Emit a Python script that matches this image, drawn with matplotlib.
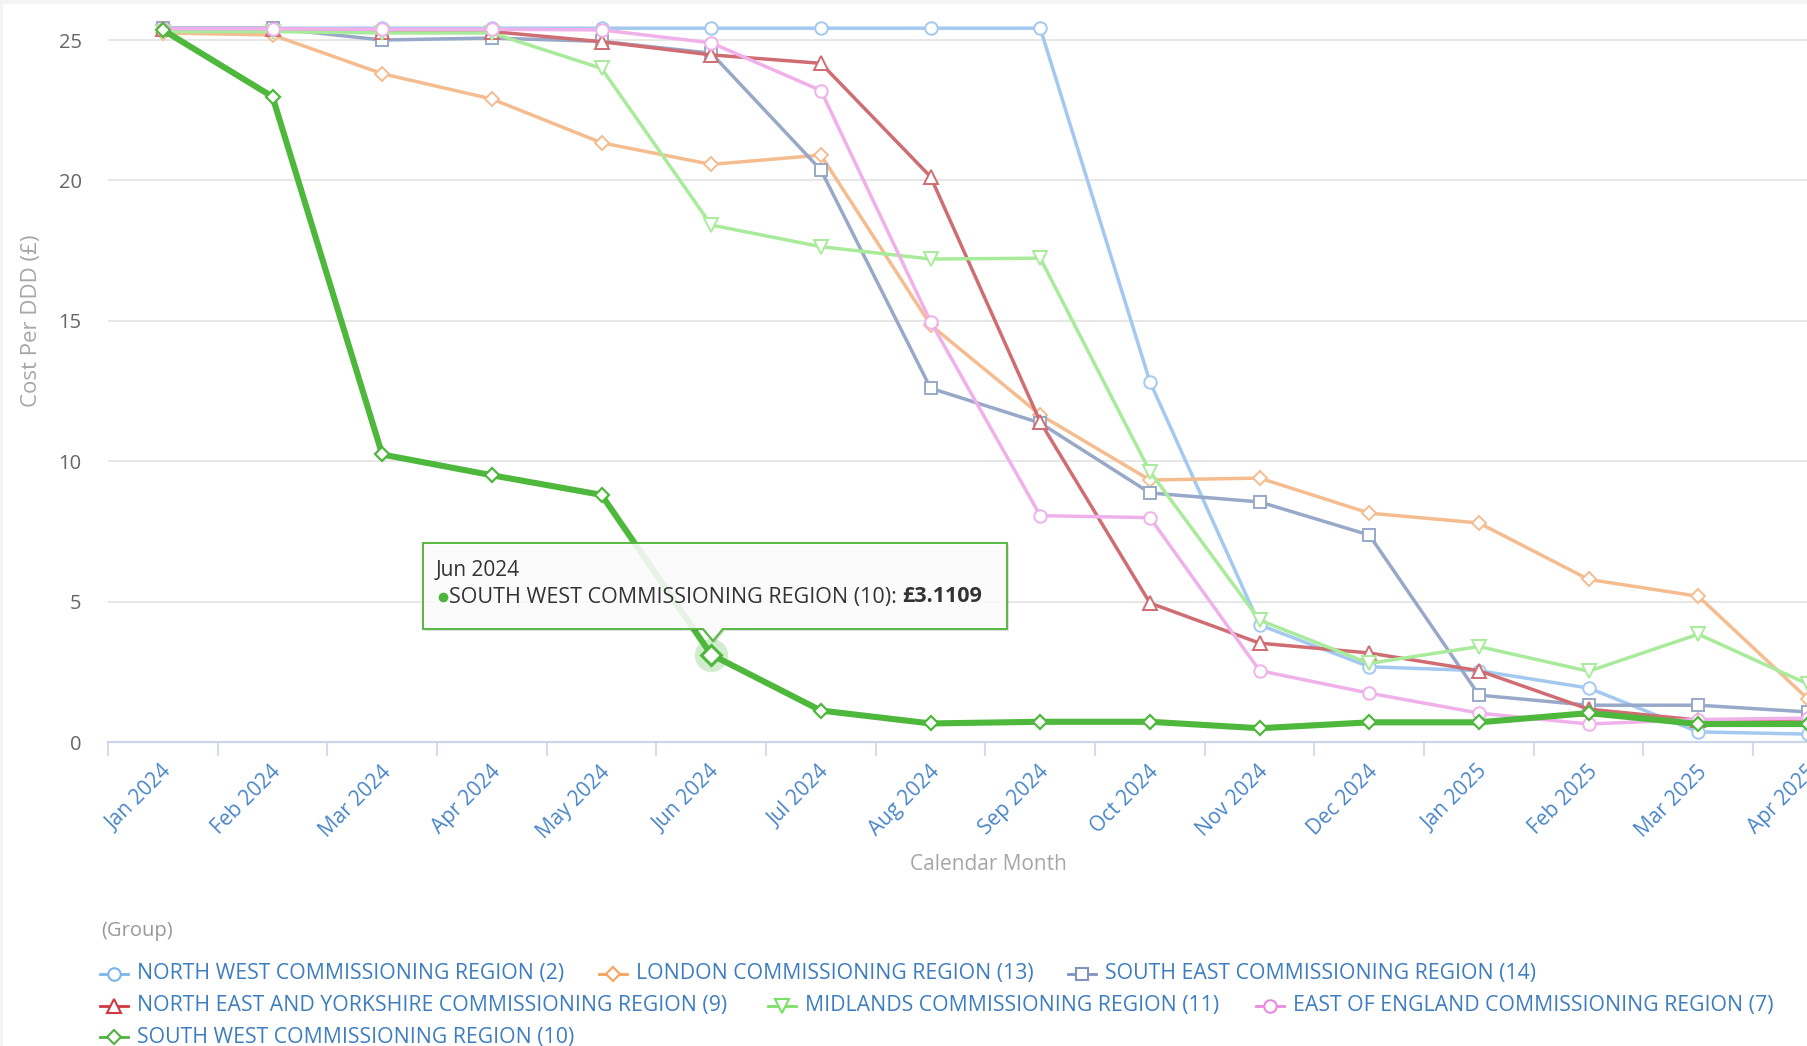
import numpy as np
import matplotlib
matplotlib.use("Agg")
import matplotlib.pyplot as plt
from matplotlib.patches import Polygon, Rectangle
from matplotlib.lines import Line2D
from matplotlib.transforms import ScaledTranslation

plt.rcParams['font.family'] = ['Open Sans', 'DejaVu Sans']

# data
months = ["Jan 2024", "Feb 2024", "Mar 2024", "Apr 2024", "May 2024", "Jun 2024",
          "Jul 2024", "Aug 2024", "Sep 2024", "Oct 2024", "Nov 2024", "Dec 2024",
          "Jan 2025", "Feb 2025", "Mar 2025", "Apr 2025"]

north_west = [25.42, 25.42, 25.42, 25.42, 25.42, 25.42, 25.42, 25.42, 25.42,
              12.83, 4.17, 2.68, 2.54, 1.92, 0.36, 0.28]
london = [25.25, 25.18, 23.8, 22.9, 21.34, 20.57, 20.9, 14.85, 11.65,
          9.33, 9.4, 8.15, 7.8, 5.79, 5.19, 1.53]
south_east = [25.42, 25.42, 25.0, 25.07, 24.95, 24.53, 20.37, 12.6, 11.36,
              8.87, 8.55, 7.37, 1.67, 1.31, 1.31, 1.07]
north_east_yorks = [25.4, 25.4, 25.3, 25.3, 24.94, 24.47, 24.17, 20.13, 11.4,
                    4.95, 3.52, 3.17, 2.54, 1.17, 0.78, 0.82]
midlands = [25.3, 25.3, 25.25, 25.25, 23.99, 18.41, 17.64, 17.2, 17.23,
            9.63, 4.34, 2.8, 3.4, 2.52, 3.84, 2.06]
east_of_england = [25.4, 25.4, 25.38, 25.38, 25.36, 24.9, 23.2, 14.97, 8.06,
                   7.99, 2.54, 1.74, 1.03, 0.64, 0.8, 0.85]
south_west = [25.36, 22.98, 10.24, 9.5, 8.8, 3.1109, 1.12, 0.66, 0.72,
              0.72, 0.49, 0.7, 0.7, 1.03, 0.64, 0.64]

names = ["NORTH WEST COMMISSIONING REGION (2)",
         "LONDON COMMISSIONING REGION (13)",
         "SOUTH EAST COMMISSIONING REGION (14)",
         "NORTH EAST AND YORKSHIRE COMMISSIONING REGION (9)",
         "MIDLANDS COMMISSIONING REGION (11)",
         "EAST OF ENGLAND COMMISSIONING REGION (7)",
         "SOUTH WEST COMMISSIONING REGION (10)"]
series = [north_west, london, south_east, north_east_yorks, midlands,
          east_of_england, south_west]

# faded (inactive) colours in the plot, full colours in the legend
line_cols = ['#a3c9f0', '#f5bd8f', '#98a8c8', '#cf6d73', '#a8eb9a', '#f0b0ea', '#4db83b']
leg_cols = ['#7cb5ec', '#f7a35c', '#8093bb', '#d2383f', '#7be06a', '#e98ae2', '#4cb33d']
markers = ['o', 'D', 's', '^', 'v', 'o', 'D']
msizes = [9, 7, 8.5, 10, 10, 9, 7.5]

W, H = 1808, 1046
fig = plt.figure(figsize=(W / 100, H / 100), dpi=100)
fig.patch.set_facecolor('white')
fig.add_artist(Rectangle((0, 1 - 4 / H), 1, 4 / H, transform=fig.transFigure,
                         color='#f3f5f5', lw=0))
fig.add_artist(Rectangle((0, 0), 3 / W, 1, transform=fig.transFigure,
                         color='#f3f5f5', lw=0))

ax = fig.add_axes([108 / W, (H - 742) / H, (W - 108) / W, (742 - 4) / H])
x = np.arange(len(months))

for i, (vals, c, m, ms) in enumerate(zip(series, line_cols, markers, msizes)):
    if i == 6:
        continue
    ax.plot(x, vals, color=c, lw=2.5, marker=m, ms=ms, mfc='white', mec=c,
            mew=1.4, zorder=2 + i * 0.1)

# hovered series on top
ax.plot(x, south_west, color=line_cols[6], lw=4.4, marker='D', ms=7.5,
        mfc='white', mec=line_cols[6], mew=1.6, zorder=5)
ax.plot(x[5], south_west[5], 'o', ms=24, color='#4db83b', alpha=0.25, mew=0, zorder=4.9)
ax.plot(x[5], south_west[5], 'D', ms=10, mfc='white', mec='#4db83b', mew=2.2, zorder=5.1)

ax.set_xlim(-0.5, -0.5 + (W - 108) / 109.9)
ax.set_ylim(0, (742 - 4) / 28.08)

ax.set_yticks([0, 5, 10, 15, 20, 25])
ax.tick_params(axis='y', length=0, pad=19, labelsize=14.5, labelcolor='#666666')
ax.grid(axis='y', color='#e3e3e3', lw=1.2)
ax.set_axisbelow(True)

ax.set_xticks(x)
ax.set_xticklabels(months, rotation=45, ha='right', va='top',
                   rotation_mode='anchor', fontsize=15, color='#4a86c8')
ax.tick_params(axis='x', length=0, pad=14)
ax.set_xticks(np.arange(-0.5, 15.5, 1), minor=True)
ax.tick_params(axis='x', which='minor', length=10, width=1.2, color='#ccd6eb')
for lab in ax.get_xticklabels():
    lab.set_transform(lab.get_transform() + ScaledTranslation(-0.02, 0, fig.dpi_scale_trans))

for side in ['top', 'right', 'left']:
    ax.spines[side].set_visible(False)
ax.spines['bottom'].set_color('#ccd6eb')
ax.spines['bottom'].set_linewidth(1.6)

# overlay in pixel coordinates for titles, legend and tooltip
ov = fig.add_axes([0, 0, 1, 1], zorder=10)
ov.set_xlim(0, W)
ov.set_ylim(H, 0)
ov.axis('off')
ov.patch.set_alpha(0)

ov.text(32, 321, "Cost Per DDD (£)", rotation=90, ha='center', va='center',
        fontsize=16, color='#a6a6a6')
ov.text(988, 864, "Calendar Month", ha='center', va='center', fontsize=15,
        color='#a6a6a6')

ov.text(101, 931, "(Group)", ha='left', va='center', fontsize=14.5, color='#999999')
leg_pos = [(114, 974), (613, 974), (1082, 974),
           (114, 1006), (782, 1006), (1270, 1006),
           (114, 1037)]
for (cx, cy), name, c, m, ms in zip(leg_pos, names, leg_cols, markers, msizes):
    ov.add_line(Line2D([cx - 14, cx + 14], [cy, cy], color=c, lw=2))
    ov.plot(cx, cy, marker=m, ms=ms, mfc='white', mec=c, mew=1.5)
    ov.text(cx + 23, cy, name, ha='left', va='center', fontsize=15.3, color='#3d7dc0')

# tooltip
tip = [(423, 543), (1007, 543), (1007, 629), (723, 629), (713, 641),
       (703, 629), (423, 629)]
shadow = [(px + 2, py + 2) for px, py in tip]
ov.add_patch(Polygon(shadow, closed=True, facecolor='#000000', alpha=0.12, lw=0))
ov.add_patch(Polygon(tip, closed=True, facecolor='white', alpha=0.88,
                     edgecolor='#5cb946', lw=1.4))
ov.add_patch(Polygon(tip, closed=True, fill=False, edgecolor='#5cb946', lw=1.4))
ov.text(436, 570, "Jun 2024", ha='left', va='center', fontsize=15, color='#333333')
ov.plot(443, 597, 'o', ms=7, color='#4cb33d', mew=0)
t1 = ov.text(449, 597, "SOUTH WEST COMMISSIONING REGION (10): ", ha='left',
             va='center', fontsize=15.5, color='#333333')
fig.canvas.draw()
bb = t1.get_window_extent(fig.canvas.get_renderer())
ov.text(bb.x1, 597, "£3.1109", ha='left', va='center', fontsize=15.5,
        fontweight='bold', color='#333333')

fig.savefig("out.png", dpi=100)
